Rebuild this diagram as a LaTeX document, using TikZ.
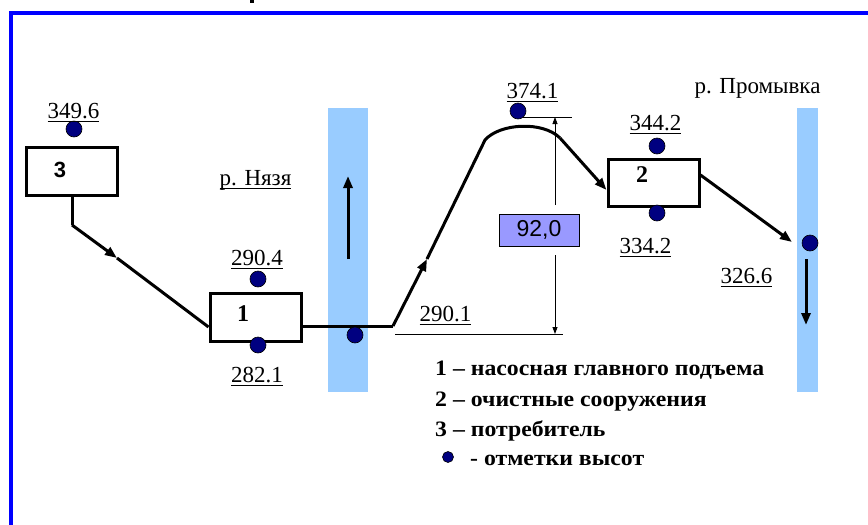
\documentclass[tikz,border=0pt]{standalone}
\usepackage{fontspec}
\setmainfont{Liberation Serif}
\newfontfamily\arial{Liberation Sans}
\newfontfamily\legfont[FakeStretch=1.08]{Liberation Serif}
\usetikzlibrary{arrows.meta}
\definecolor{river}{HTML}{99CCFF}
\definecolor{dotc}{HTML}{000080}
\definecolor{valbox}{HTML}{9999FF}
\definecolor{framec}{HTML}{0000FF}
\newcommand\ulabel[1]{\setbox0=\hbox{#1}\rlap{\rule[-4.2pt]{\wd0}{1.5pt}}\box0}
\begin{document}
\begin{tikzpicture}[x=1pt,y=-1pt,
  flow/.style={line width=3pt},
  arr/.style={-{Triangle[length=12pt,width=9pt]}},
  dim/.style={line width=0.8pt},
  dimarr/.style={line width=0.8pt,-{Triangle[length=7pt,width=5pt]}},
  box/.style={draw,line width=3pt,minimum width=91pt,inner sep=0pt},
  elev/.style={circle,fill=dotc,draw=black,line width=0.6pt,minimum size=16pt,inner sep=0pt},
  lab/.style={anchor=base,inner sep=0pt,font=\fontsize{23}{26}\selectfont},
  leg/.style={anchor=base west,inner sep=0pt,font=\legfont\bfseries\fontsize{22}{26}\selectfont},
  boxnum/.style={inner sep=0pt,font=\bfseries\fontsize{24}{24}\selectfont}]
\useasboundingbox (0,0) rectangle (868,525);
% frame and cut-off title mark
\draw[framec,line width=4pt] (11,535) -- (11,13) -- (880,13);
\fill (250,0) rectangle (254,2.5);
% rivers
\fill[river] (328,108) rectangle (368,392);
\fill[river] (797,108) rectangle (818,392);
% boxes
\node[box,minimum height=48pt] (b3) at (72,171.5) {};
\node[box,minimum height=48pt] (b1) at (255.5,317.5) {};
\node[box,minimum height=47pt] (b2) at (653.5,183) {};
\node[boxnum,font=\arial\bfseries\fontsize{22}{22}\selectfont] (n3) at (60,170) {3};
\node[boxnum] (n1) at (243,314) {1};
\node[boxnum] (n2) at (642,175) {2};
% connector coordinates
\coordinate (c3a) at (72,225);
\coordinate (c3b) at (117,258);
\coordinate (c1a) at (393,326);
\coordinate (c1b) at (427,259);
\coordinate (c1c) at (485,140);
\coordinate (c1d) at (560,138);
\coordinate (c2a) at (792,242);
\coordinate (r1a) at (348,259);
\coordinate (r1b) at (348,176);
\coordinate (r2a) at (806,259);
\coordinate (r2b) at (806,325);
% flow lines
\draw[flow] (b3.south) -- (c3a);
\draw[flow,arr] (c3a) -- (c3b);
\draw[flow] (c3b) -- ([yshift=-9.5pt]b1.west);
\draw[flow] ([yshift=-8.5pt]b1.east) -- (c1a);
\draw[flow,arr] (c1a) -- (c1b);
\draw[flow,line join=round] (c1b) -- (c1c) .. controls (500,123) and (543,121) .. (c1d);
\draw[flow,arr] (c1d) -- ([yshift=-7pt]b2.west);
\draw[flow,arr] ([yshift=8pt]b2.east) -- (c2a);
\draw[flow,arr] (r1a) -- (r1b);
\draw[flow,arr] (r2a) -- (r2b);
% dimension
\coordinate (h1a) at (523,117);
\coordinate (h1b) at (572,117);
\coordinate (h2a) at (395,334);
\coordinate (h2b) at (563,334);
\draw[dim] (h1a) -- (h1b);
\draw[dim] (h2a) -- (h2b);
\node[draw,fill=valbox,line width=0.8pt,minimum width=80pt,minimum height=32pt,inner sep=0pt,font=\arial\fontsize{23}{23}\selectfont] (v) at (539,230) {92,0};
\coordinate (dv1) at (555,205);
\coordinate (dv2) at (555,117);
\coordinate (dv3) at (555,255);
\coordinate (dv4) at (555,334);
\draw[dimarr] (dv1) -- (dv2);
\draw[dimarr] (dv3) -- (dv4);
% elevation marks
\node[elev] (d3) at (74,129) {};
\node[elev] (d1t) at (258,279) {};
\node[elev] (d1b) at (258,345) {};
\node[elev] (dr1) at (355,335) {};
\node[elev] (dtop) at (518,111) {};
\node[elev] (d2t) at (657,146) {};
\node[elev] (d2b) at (657,213) {};
\node[elev] (dr2) at (810,243) {};
% labels
\node[lab] (t349) at (73.5,118) {\ulabel{349.6}};
\node[lab] (t290a) at (257,265) {\ulabel{290.4}};
\node[lab] (t282) at (257,382) {\ulabel{282.1}};
\node[lab] (t290b) at (445.5,321) {\ulabel{290.1}};
\node[lab] (t374) at (532.5,98) {\ulabel{374.1}};
\node[lab] (t344) at (655.5,130) {\ulabel{344.2}};
\node[lab] (t334) at (645.5,253) {\ulabel{334.2}};
\node[lab] (t326) at (746.5,283) {\ulabel{326.6}};
\node[lab] (nyaz) at (255.5,185) {\ulabel{р. Нязя}};
\node[lab] (prom) at (757.5,93) {р. Промывка};
% legend
\node[leg] (l1) at (435,375) {1 – насосная главного подъема};
\node[leg] (l2) at (435,406) {2 – очистные сооружения};
\node[leg] (l3) at (435,436) {3 – потребитель};
\node[elev,minimum size=11pt] (ld) at (448,457) {};
\node[leg] (l4) at (470,465) {- отметки высот};
\end{tikzpicture}
\end{document}
